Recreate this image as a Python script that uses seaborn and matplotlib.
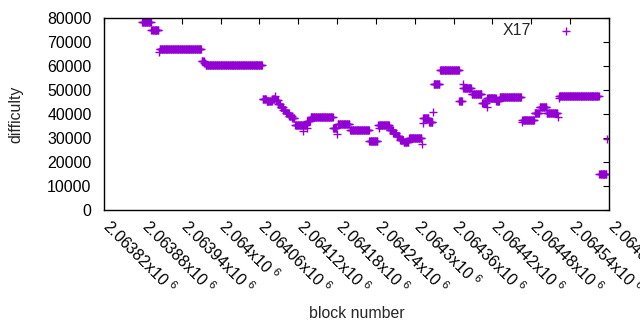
import numpy as np
import pandas as pd
import matplotlib
matplotlib.use("Agg")
import matplotlib.pyplot as plt
import matplotlib.transforms as mtransforms
import seaborn as sns

# difficulty per block, stored as runs of consecutive blocks
# (first block of the run, number of blocks, difficulty)
run_start = [2063879, 2063893, 2063905, 2063906, 2063971, 2063975, 2063977,
             2064065, 2064071, 2064080, 2064084, 2064085, 2064089, 2064093,
             2064097, 2064101, 2064106, 2064111, 2064115, 2064127, 2064128,
             2064133, 2064134, 2064139, 2064174, 2064180, 2064181, 2064200,
             2064230, 2064243, 2064245, 2064246, 2064261, 2064267, 2064272,
             2064277, 2064283, 2064291, 2064311, 2064312, 2064313, 2064322,
             2064328, 2064329, 2064339, 2064369, 2064374, 2064375, 2064388,
             2064404, 2064411, 2064412, 2064426, 2064431, 2064465, 2064466,
             2064485, 2064493, 2064504, 2064521, 2064522, 2064523, 2064585,
             2064597]
run_len = [14, 12, 1, 65, 4, 2, 88,
           6, 9, 4, 1, 4, 4, 4,
           4, 5, 5, 4, 12, 1, 5,
           1, 5, 35, 6, 1, 19, 30,
           13, 2, 1, 15, 6, 5, 5,
           6, 8, 20, 1, 1, 9, 6,
           1, 10, 30, 5, 1, 13, 16,
           7, 1, 14, 5, 34, 1, 19,
           8, 11, 17, 1, 1, 62, 12,
           1]
run_diff = [78200, 75000, 65700, 67000, 62000, 61200, 60500,
            46100, 45300, 46200, 47500, 45700, 44200, 42900,
            41700, 40400, 39200, 38200, 35500, 32900, 35500,
            34200, 37100, 38900, 34200, 31700, 36000, 33200,
            28600, 35500, 34300, 35500, 33500, 32100, 30800,
            29200, 28200, 29900, 27400, 36100, 38400, 36500,
            40700, 52400, 58200, 45400, 52500, 50900, 48300,
            44400, 43000, 46500, 45500, 47000, 36500, 37500,
            40600, 43000, 40300, 38600, 46500, 47500, 15000,
            29400]

x_ticks = [2063820, 2063880, 2063940, 2064000, 2064060, 2064120, 2064180,
           2064240, 2064300, 2064360, 2064420, 2064480, 2064540, 2064600]
y_ticks = [0, 10000, 20000, 30000, 40000, 50000, 60000, 70000, 80000]

blocks = np.concatenate([np.arange(s, s + n) for s, n in zip(run_start, run_len)])
difficulty = np.repeat(run_diff, run_len)
df = pd.DataFrame({"block": blocks, "difficulty": difficulty})

sns.set_theme(style="white")
plt.rcParams["font.family"] = ["Liberation Sans", "DejaVu Sans"]
plt.rcParams["mathtext.fontset"] = "custom"
plt.rcParams["mathtext.rm"] = "Liberation Sans"
plt.rcParams["mathtext.default"] = "regular"

fs = 11.4

fig = plt.figure(figsize=(6.4, 3.3), dpi=100)
ax = fig.add_axes([104 / 640, 1 - 210 / 330, 505 / 640, 192 / 330])

sns.scatterplot(data=df, x="block", y="difficulty", marker="+", s=40,
                linewidth=1.0, color="#9400d3", label="X17", ax=ax)

ax.set_xlim(x_ticks[0], x_ticks[-1])
ax.set_ylim(0, 80000)
ax.set_xticks(x_ticks)
ax.set_xticklabels([f"{t / 1e6:g}x10 $^{{6}}$" for t in x_ticks],
                   rotation=-45, ha="left", va="top", rotation_mode="anchor")
ax.set_yticks(y_ticks)
ax.set_yticklabels([str(v) for v in y_ticks])

ax.tick_params(direction="in", top=True, right=True, length=4, width=0.8,
               labelsize=fs, colors="black")
ax.tick_params(axis="x", pad=5)
ax.tick_params(axis="y", pad=9)
shift = mtransforms.ScaledTranslation(6 / 72, 0, fig.dpi_scale_trans)
for lab in ax.get_xticklabels():
    lab.set_transform(lab.get_transform() + shift)
for sp in ax.spines.values():
    sp.set_visible(True)
    sp.set_color("black")
    sp.set_linewidth(1.0)

ax.set_xlabel("block number", fontsize=fs)
ax.set_ylabel("difficulty", fontsize=fs)
ax.xaxis.set_label_coords(0.5, -0.5)
ax.yaxis.set_label_coords(-0.16, 0.5)

ax.legend(loc="upper right", bbox_to_anchor=(0.962, 0.975), frameon=False,
          markerfirst=False, handlelength=3.0, handletextpad=0.7,
          borderaxespad=0, borderpad=0, fontsize=fs)

fig.savefig("out.png", dpi=100)
